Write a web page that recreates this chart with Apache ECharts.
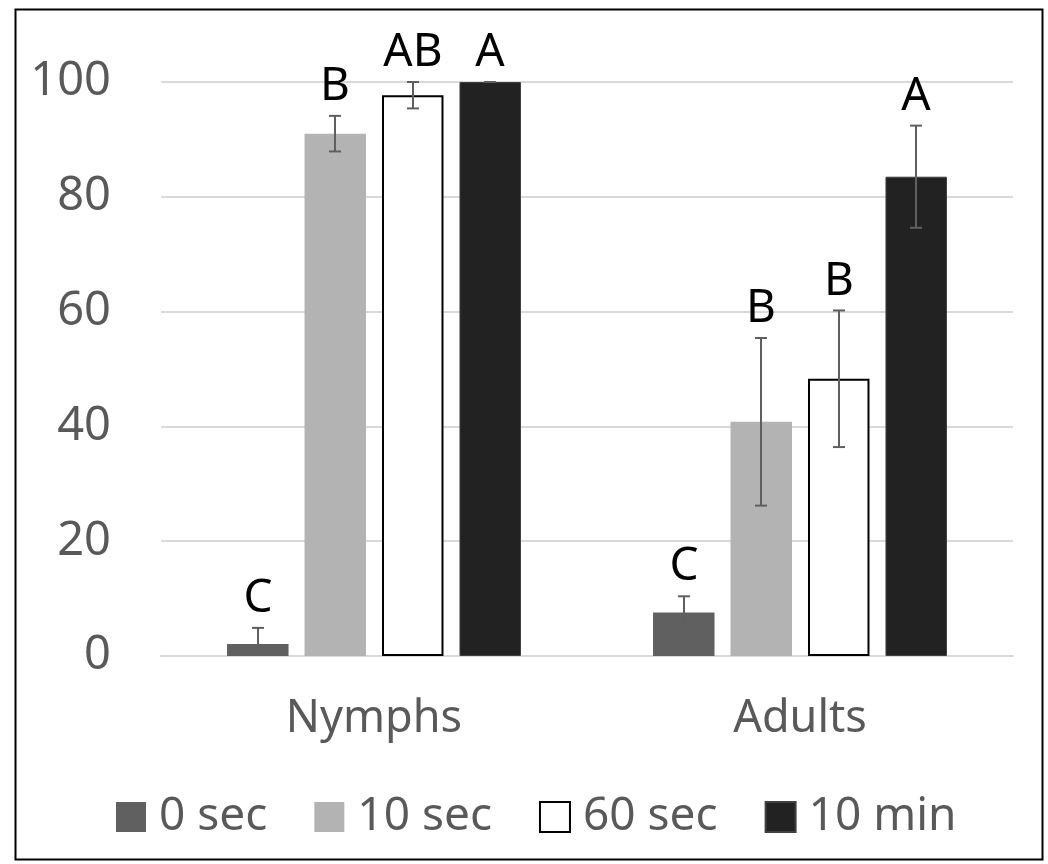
<!DOCTYPE html>
<html>
<head>
<meta charset="utf-8">
<script src="https://cdn.jsdelivr.net/npm/echarts@6/dist/echarts.min.js"></script>
<style>
html,body{margin:0;padding:0;background:#fff;}
#chart{width:1048px;height:864px;}
</style>
</head>
<body>
<div id="chart"></div>
<script>
// ---- data ----
const categories = ['Nymphs', 'Adults'];
const seriesNames = ['0 sec', '10 sec', '60 sec', '10 min'];
const means0s = [2.1, 7.6];
const means10s = [91.0, 40.8];
const means60s = [97.7, 48.3];
const means10m = [100, 83.5];
const err0s = [2.8, 2.8];
const err10s = [3.1, 14.6];
const err60s = [2.3, 11.9];
const err10m = [0, 8.9];
const letters0s = ['C', 'C'];
const letters10s = ['B', 'B'];
const letters60s = ['AB', 'B'];
const letters10m = ['A', 'A'];
const yTicks = [0, 20, 40, 60, 80, 100];

// ---- styling ----
const FONT = '"Noto Sans", "Open Sans", sans-serif';
const TEXT_GRAY = '#595959';
const fills = ['#606060', '#b3b3b3', '#ffffff', '#222222'];
const borders = ['#606060', '#b3b3b3', '#000000', '#404040'];
const borderWidths = [0, 0, 2, 1];
const BAR_GAP = 0.26, CAT_GAP = 0.31;

const means = [means0s, means10s, means60s, means10m];
const errs = [err0s, err10s, err60s, err10m];
const letters = [letters0s, letters10s, letters60s, letters10m];

const chart = echarts.init(document.getElementById('chart'), null, {renderer: 'canvas'});

const barSeries = seriesNames.map((name, i) => ({
  name: name,
  type: 'bar',
  data: means[i],
  barGap: (BAR_GAP * 100) + '%',
  barCategoryGap: (CAT_GAP * 100) + '%',
  itemStyle: {color: fills[i], borderColor: borders[i], borderWidth: borderWidths[i]},
  emphasis: {disabled: true},
  z: 2
}));

const errSeries = seriesNames.map((name, i) => ({
  type: 'custom',
  name: name + ' err',
  data: means[i].map((m, k) => [k, m, errs[i][k]]),
  z: 5,
  silent: true,
  renderItem: function (params, api) {
    const cat = api.value(0), mean = api.value(1), err = api.value(2);
    const band = api.size([1, 0])[0];
    const bw = band * (1 - CAT_GAP) / (4 + 3 * BAR_GAP);
    const gap = bw * BAR_GAP;
    const cx = Math.round(api.coord([cat, 0])[0] + (i - 1.5) * (bw + gap));
    const yTop = api.coord([cat, mean + err])[1];
    const lowVal = mean - err;
    const yBot = api.coord([cat, Math.max(0, lowVal)])[1];
    const stroke = {stroke: '#5f5f5f', lineWidth: 2};
    const half = 6;
    const children = [
      {type: 'line', shape: {x1: cx, y1: yTop, x2: cx, y2: yBot}, style: stroke},
      {type: 'line', shape: {x1: cx - half, y1: yTop, x2: cx + half, y2: yTop}, style: stroke}
    ];
    if (lowVal >= 0) {
      children.push({type: 'line', shape: {x1: cx - half, y1: yBot, x2: cx + half, y2: yBot}, style: stroke});
    }
    children.push({
      type: 'text',
      style: {
        text: letters[i][params.dataIndex],
        x: cx, y: yTop - 6,
        fill: '#000',
        font: '46px ' + FONT,
        align: 'center',
        verticalAlign: 'bottom'
      }
    });
    return {type: 'group', children: children};
  }
}));

chart.setOption({
  animation: false,
  backgroundColor: '#fff',
  textStyle: {fontFamily: FONT},
  grid: {left: 161, right: 35, top: 82, bottom: 208, containLabel: false},
  legend: {
    data: seriesNames,
    top: 794,
    left: 116,
    padding: 0,
    itemWidth: 30,
    itemHeight: 30,
    itemGap: 47,
    icon: 'rect',
    textStyle: {color: TEXT_GRAY, fontSize: 46, fontFamily: FONT, padding: [0, 0, 0, 8]}
  },
  xAxis: {
    type: 'category',
    data: categories,
    axisLine: {show: true, lineStyle: {color: '#d9d9d9', width: 2}},
    axisTick: {show: false},
    axisLabel: {color: TEXT_GRAY, fontSize: 45, fontFamily: FONT, margin: 41}
  },
  yAxis: {
    type: 'value',
    min: yTicks[0],
    max: yTicks[yTicks.length - 1],
    interval: yTicks[1] - yTicks[0],
    axisLine: {show: false},
    axisTick: {show: false},
    axisLabel: {color: TEXT_GRAY, fontSize: 47, fontFamily: FONT, margin: 50},
    splitLine: {lineStyle: {color: '#d9d9d9', width: 2}}
  },
  graphic: [{
    type: 'rect',
    left: 13, top: 7,
    shape: {width: 1027, height: 850},
    style: {fill: 'none', stroke: '#000', lineWidth: 2},
    silent: true
  }],
  series: barSeries.concat(errSeries)
});
</script>
</body>
</html>
